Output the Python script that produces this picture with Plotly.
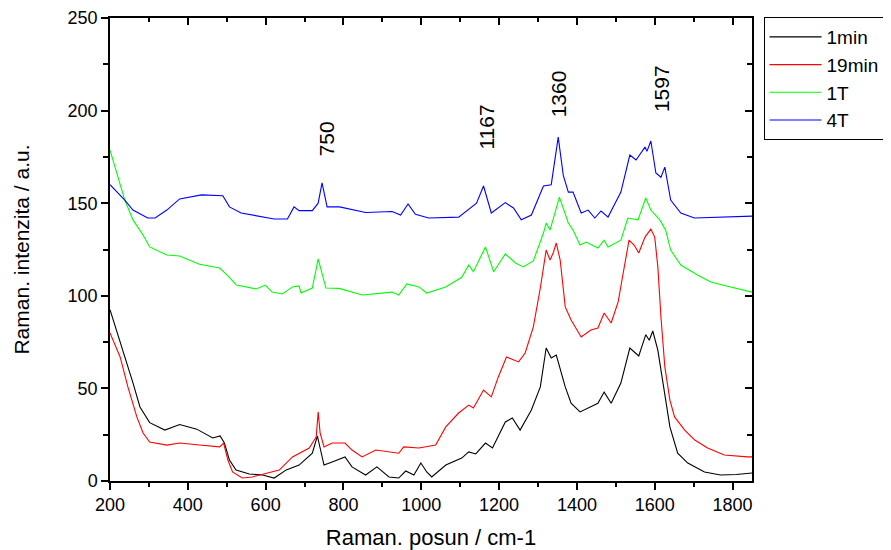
import plotly.graph_objects as go

# ---------------- data ----------------
x_1min = [200, 217, 238, 259, 277, 302, 341, 379, 423, 464, 483, 494, 507, 524, 558, 592, 622,
          653, 686, 720, 733, 750, 771, 804, 822, 857, 886, 917, 942, 960, 981, 999, 1014, 1027,
          1063, 1104, 1122, 1140, 1165, 1183, 1216, 1234, 1254, 1283, 1306, 1321, 1334, 1347,
          1370, 1385, 1408, 1454, 1470, 1488, 1513, 1536, 1559, 1577, 1586, 1595, 1608, 1621,
          1639, 1659, 1685, 1728, 1769, 1810, 1850]
y_1min = [92.5, 81.5, 67, 53, 40, 31.5, 27.5, 30.5, 28, 23.2, 24.3, 20.5, 11.3, 5.9, 3.8, 3.2, 1.6,
          6, 8.6, 15, 24.3, 8.6, 10.3, 13, 7.6, 3.2, 7.6, 2.2, 1.6, 5.4, 3.2, 9.7, 4.9, 2.2,
          8.6, 12.4, 15.7, 14.6, 20.5, 17.8, 31.9, 34, 27.5, 38.3, 50.8, 71.8, 66.4, 68,
          50.8, 42, 37.3, 42, 48, 42, 52.9, 71.8, 67.5, 79, 76, 81, 70.7, 52.9,
          29.2, 15, 9.7, 4.9, 3.2, 3.5, 4.3]

x_19min = [200, 226, 246, 269, 285, 302, 346, 379, 430, 482, 492, 503, 515, 540, 566, 602, 635,
           669, 712, 730, 735, 740, 750, 771, 804, 822, 848, 883, 917, 942, 955, 994, 1037,
           1063, 1096, 1122, 1134, 1160, 1180, 1198, 1219, 1250, 1267, 1288, 1306, 1321, 1331,
           1339, 1347, 1357, 1370, 1385, 1411, 1436, 1454, 1470, 1488, 1506, 1519, 1534, 1547,
           1559, 1575, 1590, 1600, 1608, 1616, 1626, 1639, 1651, 1677, 1703, 1736, 1779, 1838,
           1850]
y_19min = [80, 67, 50.8, 34.6, 25.9, 21, 19.4, 20.5, 19.4, 18.4, 20.5, 11.3, 4.9, 1.6, 2.2, 4.3, 5.9,
           13, 17.8, 23.8, 37.3, 26, 18.4, 20.5, 20.5, 16.7, 13, 16.7, 15.7, 15, 18.4, 17.8, 19.4,
           29.2, 36.7, 41, 39.4, 49.1, 45.4, 56.2, 67, 64.3, 69.1, 83.2, 104.2, 124.7, 119.3,
           123.1, 128.5, 119.3, 94, 86.9, 77.8, 81.5, 82.6, 90.7, 85.3, 96.7, 112.3, 130.1, 127.4,
           123.1, 131.7, 136, 131.7, 115.6, 88.6, 61.6, 43.7, 34.6, 27.5, 22.1, 17.8, 14, 13,
           13]

x_1T = [200, 238, 259, 285, 302, 346, 379, 430, 482, 502, 525, 576, 599, 617, 643, 669, 686, 691,
        720, 735, 755, 789, 848, 925, 942, 963, 994, 1014, 1063, 1104, 1122, 1134, 1165, 1186,
        1216, 1242, 1262, 1288, 1314, 1321, 1331, 1355, 1378, 1390, 1408, 1424, 1454, 1470, 1480,
        1513, 1531, 1557, 1577, 1590, 1613, 1628, 1641, 1667, 1710, 1744, 1795, 1850]
y_1T = [178.7, 151.7, 141, 132.8, 126.4, 122, 121.5, 117, 115, 111, 105.8, 103.7, 105.8, 102, 101,
        104.8, 105.3, 101.5, 104.2, 119.9, 104.2, 104, 100.4, 102, 100.4, 106.4, 104.8, 101.5,
        104.8, 110, 116.6, 113, 126.4, 113, 122.6, 117.7, 115.6, 118.8, 133.9, 139.3, 135.5,
        153.3, 139.3, 135.5, 127.4, 129, 125.8, 130, 126.4, 130, 142, 141, 152.8, 146.3, 141,
        135.5, 124.7, 116.6, 111.2, 107.5, 104.8, 102]

x_4T = [200, 238, 259, 297, 316, 346, 379, 435, 490, 507, 537, 588, 622, 656, 673, 686, 720, 735,
        745, 758, 790, 857, 925, 947, 966, 985, 1019, 1096, 1122, 1142, 1160, 1180, 1216, 1237,
        1257, 1283, 1314, 1334, 1352, 1365, 1378, 1390, 1411, 1429, 1446, 1462, 1480, 1513, 1536,
        1552, 1575, 1580, 1590, 1603, 1616, 1626, 1641, 1667, 1702, 1761, 1850]
y_4T = [160, 151.7, 146.3, 142, 142, 146.3, 152.3, 154.5, 154, 148, 144.7, 142.7, 141.5, 141.5,
        148, 146, 146, 150, 161, 148, 148, 145, 145.5, 143.6, 149.6, 144, 142, 142.5, 147, 150,
        159.3, 144.7, 150.3, 147.4, 141, 143.6, 159.3, 160, 185.7, 165, 156, 156, 144.7, 146.3,
        142, 145.8, 142.5, 156, 176, 173.3, 180.3, 178, 183.6, 166.3, 164, 169.5, 151.7, 144.7,
        142, 142.5, 143]

series_names = ["1min", "19min", "1T", "4T"]
series_colors = ["#000000", "#FF0000", "#00FF00", "#0000FF"]

peak_labels = ["750", "1167", "1360", "1597"]
peak_label_x = [755, 1167, 1355, 1618]
peak_label_y = [185, 191, 209, 212]

# ---------------- figure ----------------
FONT = "Arial, Liberation Sans, sans-serif"
fig = go.Figure()
for name, col, xs, ys in zip(series_names, series_colors,
                             [x_1min, x_19min, x_1T, x_4T],
                             [y_1min, y_19min, y_1T, y_4T]):
    fig.add_trace(go.Scatter(x=xs, y=ys, mode="lines", name=name,
                             line=dict(color=col, width=1.1)))

# helper trace to make the mirrored (top/right) axes render
fig.add_trace(go.Scatter(x=[200], y=[0], xaxis="x2", yaxis="y2", mode="markers",
                         marker=dict(opacity=0), showlegend=False, hoverinfo="skip"))

for txt, px_, py_ in zip(peak_labels, peak_label_x, peak_label_y):
    fig.add_annotation(x=px_, y=py_, text=txt, textangle=-90, showarrow=False,
                       font=dict(family=FONT, size=21, color="black"))

axis_common = dict(showgrid=False, zeroline=False, showline=True, linecolor="black",
                   linewidth=1.5)

fig.update_layout(
    width=891, height=550,
    paper_bgcolor="white", plot_bgcolor="white",
    margin=dict(l=102, r=147, t=10, b=77, autoexpand=False),
    font=dict(family=FONT, size=18, color="black"),
    xaxis=dict(range=[200, 1850], tickmode="linear", tick0=200, dtick=200,
               ticks="outside", ticklen=7, tickwidth=1.5, tickcolor="black",
               minor=dict(tick0=200, dtick=100, ticks="outside", ticklen=4, tickwidth=1.5,
                          tickcolor="black"),
               tickfont=dict(size=18),
               title=dict(text="Raman. posun / cm-1", font=dict(size=22), standoff=15),
               **axis_common),
    yaxis=dict(range=[0, 250], tickmode="linear", tick0=0, dtick=50,
               ticks="outside", ticklen=7, tickwidth=1.5, tickcolor="black",
               minor=dict(tick0=0, dtick=25, ticks="outside", ticklen=5, tickwidth=1.5,
                          tickcolor="black"),
               tickfont=dict(size=18),
               title=dict(text="Raman. intenzita / a.u.", font=dict(size=21), standoff=32),
               **axis_common),
    xaxis2=dict(range=[200, 1850], overlaying="x", side="top", matches="x",
                tickmode="linear", tick0=200, dtick=200, ticks="inside", ticklen=7,
                tickwidth=1.5, tickcolor="black", showticklabels=False,
                minor=dict(tick0=200, dtick=100, ticks="inside", ticklen=4, tickwidth=1.5,
                           tickcolor="black"),
                **axis_common),
    yaxis2=dict(range=[0, 250], overlaying="y", side="right", anchor="x",
                tickmode="linear", tick0=0, dtick=50, ticks="inside", ticklen=7,
                tickwidth=1.5, tickcolor="black", showticklabels=False,
                minor=dict(tick0=0, dtick=25, ticks="inside", ticklen=5, tickwidth=1.5,
                           tickcolor="black"),
                **axis_common),
    legend=dict(x=1.018, y=1.002, xanchor="left", yanchor="top",
                bordercolor="black", borderwidth=1, bgcolor="white",
                font=dict(size=19), tracegroupgap=0, itemwidth=52),
    showlegend=True,
)

fig.write_html("out.html")
